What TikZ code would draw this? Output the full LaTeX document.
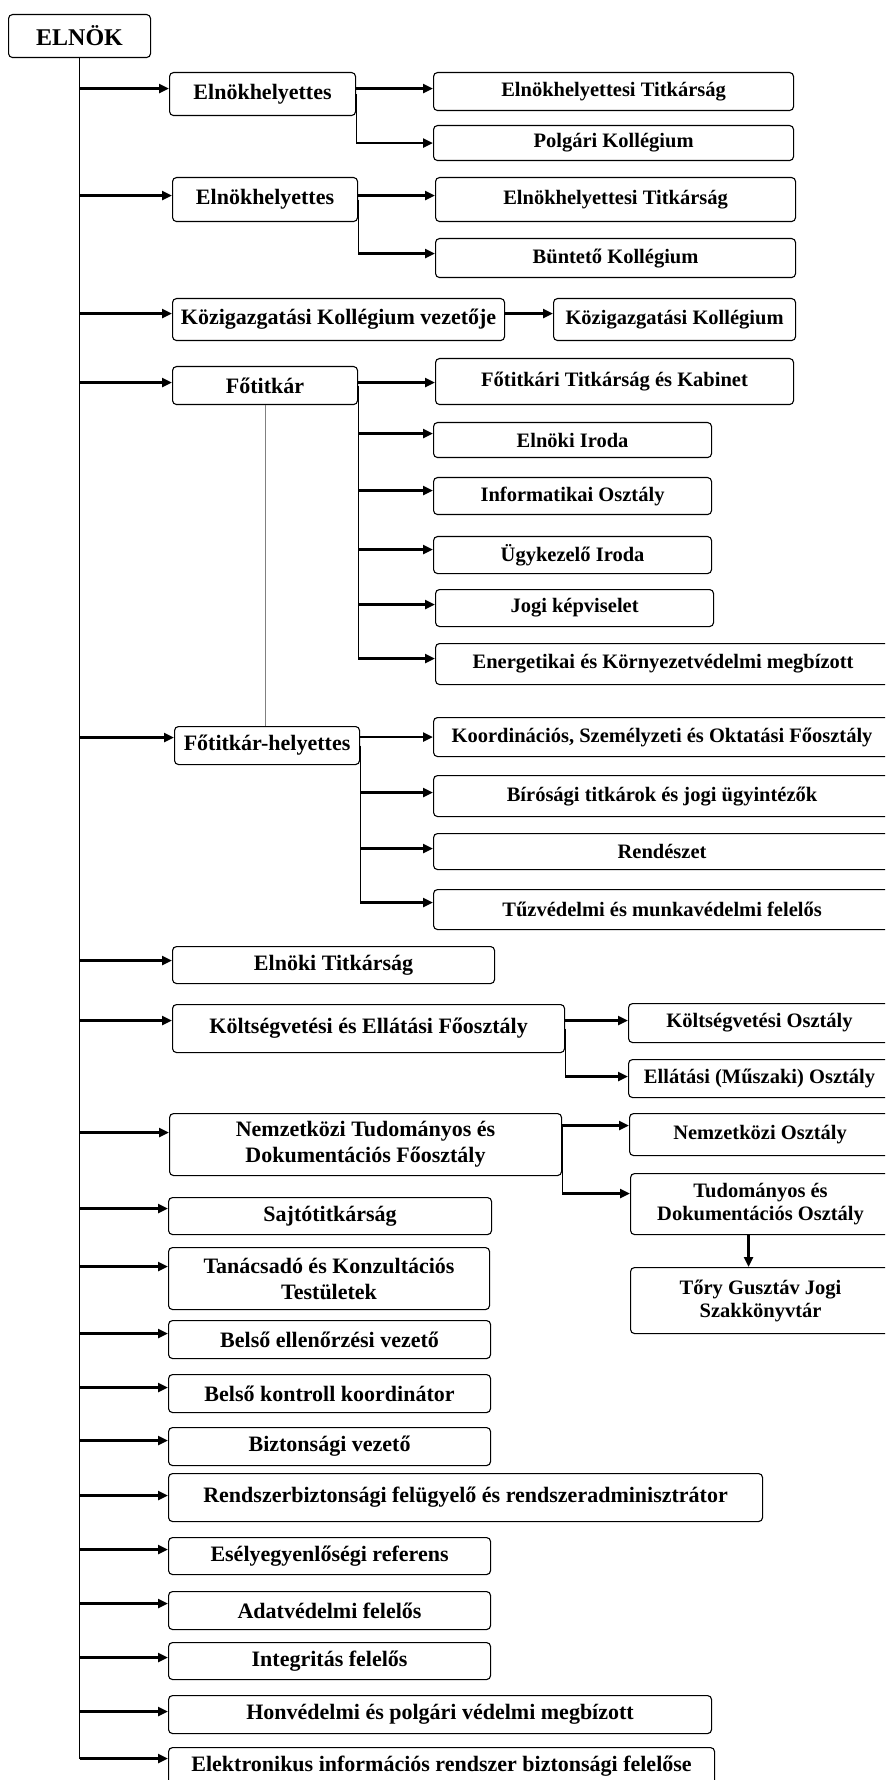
\documentclass[tikz,border=0pt]{standalone}
\usepackage{fontspec}
\setmainfont{Liberation Serif}
\usepackage{tikz}
\usetikzlibrary{arrows.meta}
\begin{document}
\begin{tikzpicture}[x=0.5pt,y=-0.5pt]
\tikzset{>={Triangle[width=4.5pt,length=5pt]}}
\tikzstyle{box} =[draw, rounded corners=2pt, line width=0.55pt, anchor=north west, align=center, inner sep=1pt, font=\bfseries\fontsize{11}{13}\selectfont]
\tikzstyle{subbox} =[box, font=\bfseries\fontsize{10.25}{11.5}\selectfont]
\tikzstyle{arr} =[->, line width=1.3pt]
\tikzstyle{link} =[line width=0.6pt]

\useasboundingbox (0,0) rectangle (885,1780);
\clip (0,0) rectangle (885,1780);

\node[box, font=\bfseries\fontsize{12}{14}\selectfont, minimum width=71pt, minimum height=21.5pt](elnok) at (8,14){ELNÖK};

\node[box, minimum width=93pt, minimum height=21.5pt](eh1) at (169,72){Elnökhelyettes};
\node[subbox, minimum width=180pt, minimum height=19pt](eht1) at (433,72){Elnökhelyettesi Titkárság};
\node[subbox, minimum width=180pt, minimum height=17.5pt](polg) at (433,125){Polgári Kollégium};

\node[box, minimum width=92.5pt, minimum height=22pt](eh2) at (172,177){Elnökhelyettes};
\node[subbox, minimum width=180pt, minimum height=22pt](eht2) at (435,177){Elnökhelyettesi Titkárság};
\node[subbox, minimum width=180pt, minimum height=19.5pt](bunt) at (435,238){Büntető Kollégium};

\node[box, minimum width=166pt, minimum height=21pt](kkv) at (172,298){Közigazgatási Kollégium vezetője};
\node[subbox, minimum width=121pt, minimum height=21pt](kk) at (553,298){Közigazgatási Kollégium};

\node[box, minimum width=92.5pt, minimum height=19pt](fot) at (172,366){Főtitkár};
\node[subbox, minimum width=179pt, minimum height=23pt](ftk) at (435,358){Főtitkári Titkárság és Kabinet};
\node[subbox, minimum width=139pt, minimum height=17.5pt](eli) at (433,422){Elnöki Iroda};
\node[subbox, minimum width=139pt, minimum height=18.5pt](inf) at (433,477){Informatikai Osztály};
\node[subbox, minimum width=139pt, minimum height=18.5pt](ugy) at (433,536){Ügykezelő Iroda};
\node[subbox, minimum width=139pt, minimum height=18.5pt](jogi) at (435,589){Jogi képviselet};
\node[subbox, minimum width=227.5pt, minimum height=20.5pt](energ) at (435,643){Energetikai és Környezetvédelmi megbízott};

\node[box, minimum width=92.5pt, minimum height=19pt](foth) at (174,726){Főtitkár-helyettes};
\node[subbox, minimum width=228.5pt, minimum height=19.5pt](koord) at (433,717){Koordinációs, Személyzeti és Oktatási Főosztály};
\node[subbox, minimum width=228.5pt, minimum height=20.5pt](bir) at (433,775){Bírósági titkárok és jogi ügyintézők};
\node[subbox, minimum width=228.5pt, minimum height=18pt](rend) at (433,833){Rendészet};
\node[subbox, minimum width=228.5pt, minimum height=20pt](tuz) at (433,889){Tűzvédelmi és munkavédelmi felelős};

\node[box, minimum width=161pt, minimum height=18.5pt](elt) at (172,946){Elnöki Titkárság};

\node[box, minimum width=196pt, minimum height=24pt](kef) at (172,1004){Költségvetési és Ellátási Főosztály};
\node[subbox, minimum width=131pt, minimum height=19.5pt](ko) at (628,1003){Költségvetési Osztály};
\node[subbox, minimum width=131pt, minimum height=19pt](emo) at (628,1059){Ellátási (Műszaki) Osztály};

\node[box, minimum width=196pt, minimum height=31pt](ntdf) at (169,1113){Nemzetközi Tudományos és\\Dokumentációs Főosztály};
\node[subbox, minimum width=130.5pt, minimum height=21pt](no) at (629,1113){Nemzetközi Osztály};
\node[subbox, minimum width=130pt, minimum height=30.5pt](tdo) at (630,1173){Tudományos és\\Dokumentációs Osztály};
\node[subbox, minimum width=130pt, minimum height=33pt](tory) at (630,1267){Tőry Gusztáv Jogi\\Szakkönyvtár};

\node[box, minimum width=161.5pt, minimum height=18.5pt](sajto) at (168,1197){Sajtótitkárság};
\node[box, minimum width=160.5pt, minimum height=31pt](tan) at (168,1247){Tanácsadó és Konzultációs\\Testületek};
\node[box, minimum width=161pt, minimum height=19pt](bell) at (168,1320){Belső ellenőrzési vezető};
\node[box, minimum width=161pt, minimum height=19pt](bk) at (168,1374){Belső kontroll koordinátor};
\node[box, minimum width=161pt, minimum height=19pt](biz) at (168,1427){Biztonsági vezető};
\node[box, minimum width=297pt, minimum height=24pt](rendsz) at (168,1473){Rendszerbiztonsági felügyelő és rendszeradminisztrátor};
\node[box, minimum width=161pt, minimum height=18.5pt](esely) at (168,1537){Esélyegyenlőségi referens};
\node[box, minimum width=161pt, minimum height=19pt](adat) at (168,1591){Adatvédelmi felelős};
\node[box, minimum width=161pt, minimum height=18.5pt](integ) at (168,1642){Integritás felelős};
\node[box, minimum width=271.5pt, minimum height=19pt](honv) at (168,1695){Honvédelmi és polgári védelmi megbízott};
\node[box, minimum width=273pt, minimum height=19pt](elek) at (168,1747){Elektronikus információs rendszer biztonsági felelőse};

% trunk
\draw[link] (elnok.south) -- ([yshift=4pt]elek.west -| elnok.south);
\draw[arr] ([yshift=2.75pt]eh1.west -| elnok.south) -- ([yshift=2.75pt]eh1.west);
\draw[arr] ([yshift=2pt]eh2.west -| elnok.south) -- ([yshift=2pt]eh2.west);
\draw[arr] ([yshift=3pt]kkv.west -| elnok.south) -- ([yshift=3pt]kkv.west);
\draw[arr] ([yshift=1.5pt]fot.west -| elnok.south) -- ([yshift=1.5pt]fot.west);
\draw[arr] ([yshift=4pt]foth.west -| elnok.south) -- ([yshift=4pt]foth.west);
\draw[arr] ([yshift=2.25pt]elt.west -| elnok.south) -- ([yshift=2.25pt]elt.west);
\draw[arr] ([yshift=4pt]kef.west -| elnok.south) -- ([yshift=4pt]kef.west);
\draw[arr] ([yshift=6pt]ntdf.west -| elnok.south) -- ([yshift=6pt]ntdf.west);
\draw[arr] ([yshift=3.75pt]sajto.west -| elnok.south) -- ([yshift=3.75pt]sajto.west);
\draw[arr] ([yshift=6pt]tan.west -| elnok.south) -- ([yshift=6pt]tan.west);
\draw[arr] ([yshift=3pt]bell.west -| elnok.south) -- ([yshift=3pt]bell.west);
\draw[arr] ([yshift=3pt]bk.west -| elnok.south) -- ([yshift=3pt]bk.west);
\draw[arr] ([yshift=3pt]biz.west -| elnok.south) -- ([yshift=3pt]biz.west);
\draw[arr] ([yshift=1pt]rendsz.west -| elnok.south) -- ([yshift=1pt]rendsz.west);
\draw[arr] ([yshift=3.25pt]esely.west -| elnok.south) -- ([yshift=3.25pt]esely.west);
\draw[arr] ([yshift=3.5pt]adat.west -| elnok.south) -- ([yshift=3.5pt]adat.west);
\draw[arr] ([yshift=1.75pt]integ.west -| elnok.south) -- ([yshift=1.75pt]integ.west);
\draw[arr] ([yshift=1.5pt]honv.west -| elnok.south) -- ([yshift=1.5pt]honv.west);
\draw[arr] ([yshift=4pt]elek.west -| elnok.south) -- ([yshift=4pt]elek.west);

% elnokhelyettesek
\draw[link] (eh1.east) -- (polg.west -| eh1.east);
\draw[arr] ([yshift=1.5pt]eht1.west -| eh1.east) -- ([yshift=1.5pt]eht1.west);
\draw[arr] (polg.west -| eh1.east) -- (polg.west);
\draw[link] (eh2.east) -- ([yshift=2.25pt]bunt.west -| eh2.east);
\draw[arr] ([yshift=2pt]eht2.west -| eh2.east) -- ([yshift=2pt]eht2.west);
\draw[arr] ([yshift=2.25pt]bunt.west -| eh2.east) -- ([yshift=2.25pt]bunt.west);
\draw[arr] ([yshift=3pt]kk.west -| kkv.east) -- ([yshift=3pt]kk.west);

% fotitkar
\draw[gray, line width=0.5pt] (fot.south) -- (fot.south |- foth.north);
\draw[link] (fot.east) -- ([yshift=2.75pt]energ.west -| fot.east);
\draw[arr] ([yshift=-0.5pt]ftk.west -| fot.east) -- ([yshift=-0.5pt]ftk.west);
\draw[arr] ([yshift=3.25pt]eli.west -| fot.east) -- ([yshift=3.25pt]eli.west);
\draw[arr] ([yshift=2.75pt]inf.west -| fot.east) -- ([yshift=2.75pt]inf.west);
\draw[arr] ([yshift=2.75pt]ugy.west -| fot.east) -- ([yshift=2.75pt]ugy.west);
\draw[arr] ([yshift=1.75pt]jogi.west -| fot.east) -- ([yshift=1.75pt]jogi.west);
\draw[arr] ([yshift=2.75pt]energ.west -| fot.east) -- ([yshift=2.75pt]energ.west);

\draw[link] (foth.east) -- ([yshift=3.5pt]tuz.west -| foth.east);
\draw[arr] (koord.west -| foth.east) -- (koord.west);
\draw[arr] ([yshift=1.75pt]bir.west -| foth.east) -- ([yshift=1.75pt]bir.west);
\draw[arr] ([yshift=1.5pt]rend.west -| foth.east) -- ([yshift=1.5pt]rend.west);
\draw[arr] ([yshift=3.5pt]tuz.west -| foth.east) -- ([yshift=3.5pt]tuz.west);

% foosztalyok
\draw[link] (kef.east) -- ([yshift=1pt]emo.west -| kef.east);
\draw[arr] ([yshift=1.25pt]ko.west -| kef.east) -- ([yshift=1.25pt]ko.west);
\draw[arr] ([yshift=1pt]emo.west -| kef.east) -- ([yshift=1pt]emo.west);
\draw[link] ([yshift=4.5pt]no.west -| ntdf.east) -- ([yshift=5.25pt]tdo.west -| ntdf.east);
\draw[arr] ([yshift=4.5pt]no.west -| ntdf.east) -- ([yshift=4.5pt]no.west);
\draw[arr] ([yshift=5.25pt]tdo.west -| ntdf.east) -- ([yshift=5.25pt]tdo.west);
\draw[arr] ([xshift=-6pt]tdo.south) -- ([xshift=-6pt]tdo.south |- tory.north);
\end{tikzpicture}
\end{document}
